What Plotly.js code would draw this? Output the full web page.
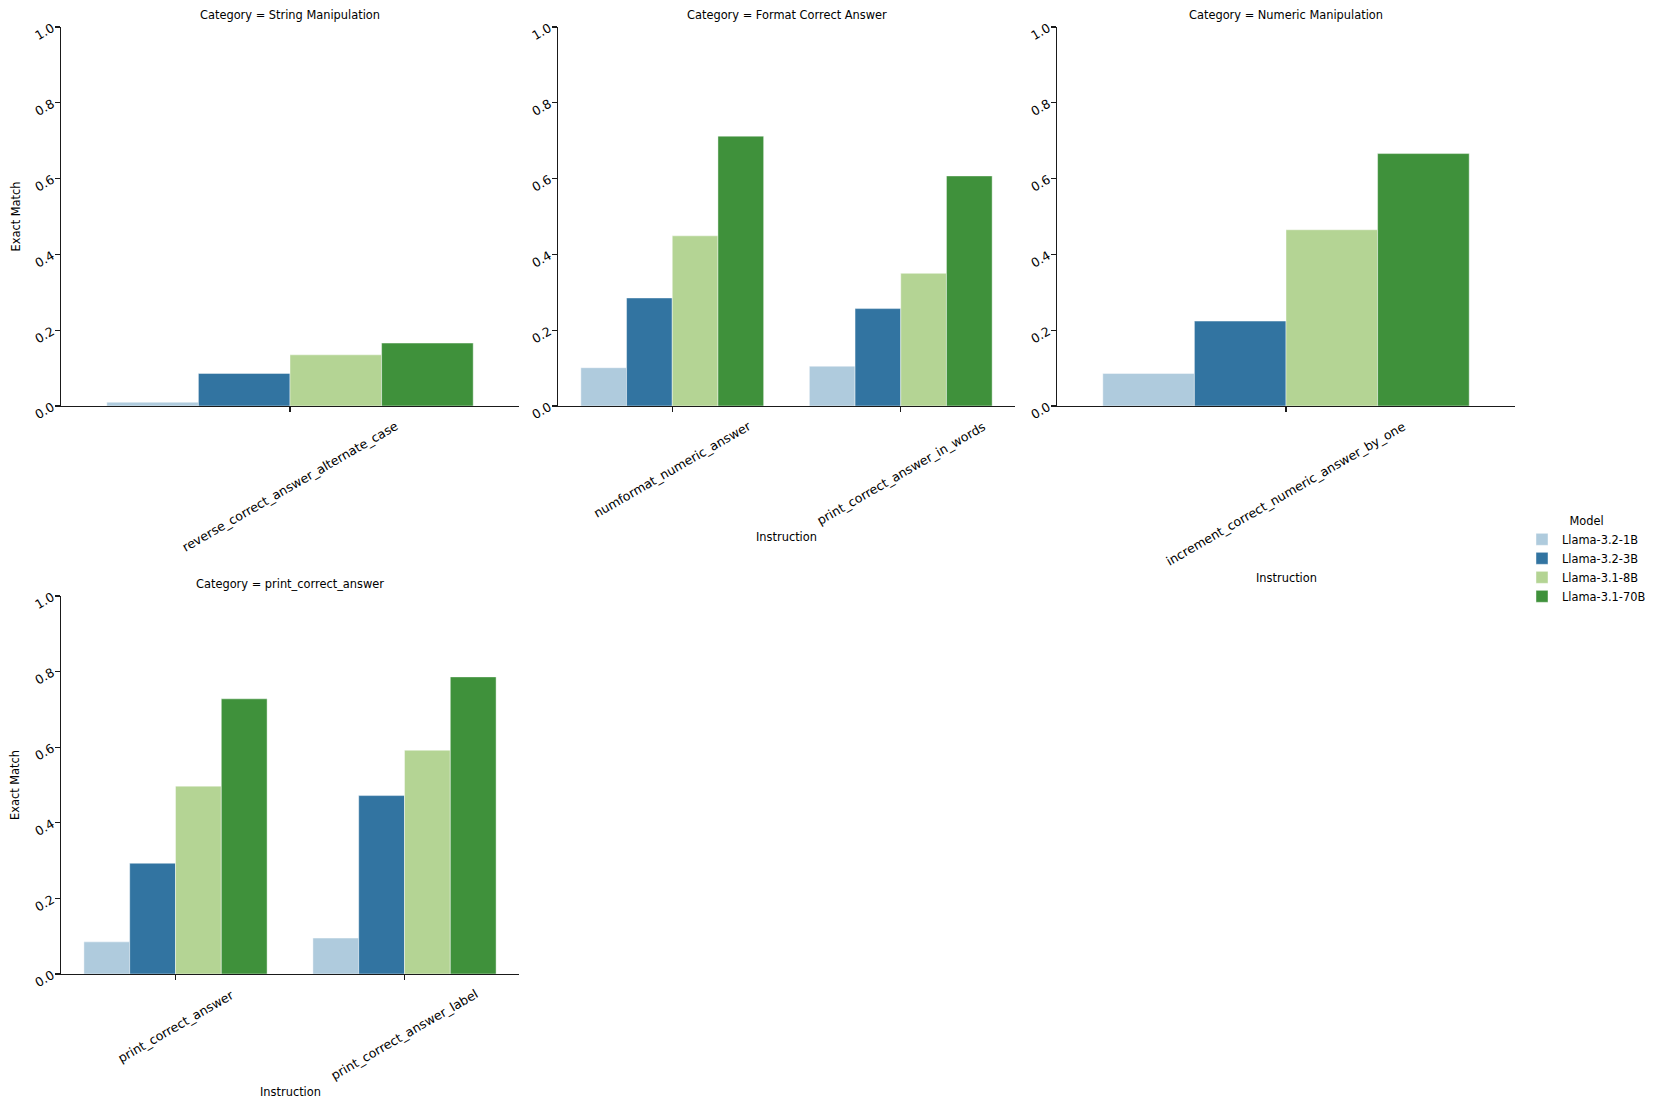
<!DOCTYPE html>
<html>
<head>
<meta charset="utf-8">
<script src="https://cdn.plot.ly/plotly-3.0.1.min.js"></script>
<style>
  html, body { margin: 0; padding: 0; background: #ffffff; }
  #chart { width: 1660px; height: 1109px; }
</style>
</head>
<body>
<div id="chart"></div>
<script>
// ---------------- data ----------------
const models = ['Llama-3.2-1B', 'Llama-3.2-3B', 'Llama-3.1-8B', 'Llama-3.1-70B'];
const panelCategories = ['String Manipulation', 'Format Correct Answer', 'Numeric Manipulation', 'print_correct_answer'];
const instructions = [
  'reverse_correct_answer_alternate_case',
  'numformat_numeric_answer',
  'print_correct_answer_in_words',
  'increment_correct_numeric_answer_by_one',
  'print_correct_answer',
  'print_correct_answer_label'
];
const instructionCategory = [
  'String Manipulation',
  'Format Correct Answer',
  'Format Correct Answer',
  'Numeric Manipulation',
  'print_correct_answer',
  'print_correct_answer'
];
const llama32_1B  = [0.010, 0.101, 0.105, 0.086, 0.085, 0.095];
const llama32_3B  = [0.086, 0.285, 0.257, 0.224, 0.293, 0.472];
const llama31_8B  = [0.135, 0.449, 0.350, 0.465, 0.497, 0.592];
const llama31_70B = [0.166, 0.712, 0.607, 0.666, 0.728, 0.786];
const modelValues = [llama32_1B, llama32_3B, llama31_8B, llama31_70B];
const yTicks = [0, 0.2, 0.4, 0.6, 0.8, 1.0];

// ---------------- styling ----------------
const colors = ['#afcbdd', '#3274a1', '#b4d494', '#3f913b'];
const FONT = 'DejaVu Sans, Liberation Sans, sans-serif';
const W = 1660, H = 1109;
const px = v => v / W;
const py = v => 1 - v / H;

// panel frames in pixels: [left, right, top, bottom]
const frames = [
  [61, 519, 27, 406],
  [558, 1015, 27, 406],
  [1057, 1515, 27, 406],
  [61, 519, 596, 974]
];
// y positions (pixels) of the "Instruction" x-axis titles (null = none)
const xTitleY = [null, 537, 578, 1092];

const traces = [];
const annotations = [];
const layout = {
  width: W, height: H,
  margin: {l: 0, r: 0, t: 0, b: 0},
  paper_bgcolor: '#ffffff',
  plot_bgcolor: '#ffffff',
  font: {family: FONT, size: 11.4, color: '#000000'},
  barmode: 'group',
  bargap: 0.2,
  bargroupgap: 0,
  showlegend: true,
  legend: {
    x: px(1522), y: py(510), xanchor: 'left', yanchor: 'top',
    title: {text: 'Model', side: 'top center', font: {family: FONT, size: 11.4}},
    font: {family: FONT, size: 11.4},
    bgcolor: 'rgba(0,0,0,0)',
    tracegroupgap: 0
  }
};

panelCategories.forEach((cat, p) => {
  const idx = instructionCategory.map((c, i) => c === cat ? i : -1).filter(i => i >= 0);
  const cats = idx.map(i => instructions[i]);
  const axN = p === 0 ? '' : String(p + 1);
  const [l, r, t, b] = frames[p];

  models.forEach((m, k) => {
    traces.push({
      type: 'bar',
      name: m,
      legendgroup: m,
      showlegend: p === 0,
      x: cats,
      y: idx.map(i => modelValues[k][i]),
      xaxis: 'x' + axN,
      yaxis: 'y' + axN,
      marker: {color: colors[k], line: {color: 'rgba(255,255,255,0.55)', width: 0.8}},
      hoverinfo: 'x+y+name'
    });
  });

  layout['xaxis' + axN] = {
    domain: [px(l), px(r)],
    anchor: 'y' + axN,
    type: 'category',
    categoryorder: 'array',
    categoryarray: cats,
    range: [-0.5, cats.length - 0.5],
    showline: true, linecolor: '#1a1a1a', linewidth: 1.2,
    ticks: 'outside', ticklen: 5, tickwidth: 1.1, tickcolor: '#1a1a1a',
    showticklabels: false,
    showgrid: false, zeroline: false, fixedrange: true
  };
  layout['yaxis' + axN] = {
    domain: [py(b), py(t)],
    anchor: 'x' + axN,
    range: [0, 1],
    tickvals: yTicks,
    tickformat: '.1f',
    tickangle: -30,
    tickfont: {family: FONT, size: 12.5, color: '#000'},
    showline: true, linecolor: '#1a1a1a', linewidth: 1.2,
    ticks: 'outside', ticklen: 5, tickwidth: 1.1, tickcolor: '#1a1a1a',
    showgrid: false, zeroline: false, fixedrange: true
  };

  // rotated category labels, centred under each tick like the original
  cats.forEach((c, j) => {
    annotations.push({
      xref: 'x' + axN, yref: 'paper',
      x: j, y: py(b + 10),
      xanchor: 'center', yanchor: 'top',
      text: c, textangle: -30, showarrow: false,
      font: {family: FONT, size: 12.5, color: '#000'}
    });
  });

  // facet title
  annotations.push({
    xref: 'paper', yref: 'paper',
    x: px((l + r) / 2), y: py(t - 12),
    xanchor: 'center', yanchor: 'middle',
    text: 'Category = ' + cat, showarrow: false,
    font: {family: FONT, size: 11.4, color: '#000'}
  });

  // axis titles
  if (xTitleY[p] !== null) {
    annotations.push({
      xref: 'paper', yref: 'paper',
      x: px((l + r) / 2), y: py(xTitleY[p]),
      xanchor: 'center', yanchor: 'middle',
      text: 'Instruction', showarrow: false,
      font: {family: FONT, size: 11.4, color: '#000'}
    });
  }
  if (l < 100) {
    annotations.push({
      xref: 'paper', yref: 'paper',
      x: px(15), y: py((t + b) / 2),
      xanchor: 'center', yanchor: 'middle',
      text: 'Exact Match', textangle: -90, showarrow: false,
      font: {family: FONT, size: 11.4, color: '#000'}
    });
  }
});

layout.annotations = annotations;

Plotly.newPlot('chart', traces, layout, {displayModeBar: false, staticPlot: true});
</script>
</body>
</html>
